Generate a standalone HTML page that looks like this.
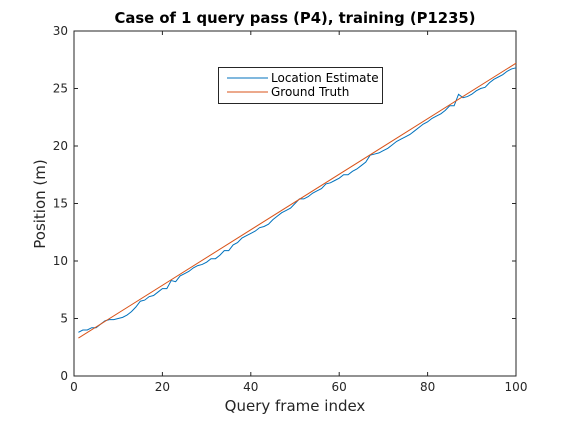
<!DOCTYPE html>
<html><head><meta charset="utf-8"><style>
body{margin:0;background:#fff;}
svg{display:block;font-family:"DejaVu Sans","Liberation Sans",sans-serif;}
</style></head><body>
<svg id="chart" width="570" height="422">
<rect width="570" height="422" fill="#fff"/>
<text x="295" y="23" text-anchor="middle" font-size="14.8" font-weight="bold" fill="#000">Case of 1 query pass (P4), training (P1235)</text>
<g id="axes"></g>
<text x="295" y="411" text-anchor="middle" font-size="15" fill="#262626">Query frame index</text>
<text transform="translate(45,204) rotate(-90)" text-anchor="middle" font-size="15" fill="#262626">Position (m)</text>
<g>
<rect x="218.5" y="67.5" width="164" height="36" fill="#fff" stroke="#262626" stroke-width="1"/>
<line x1="227" y1="78" x2="268" y2="78" stroke="#0072BD" stroke-width="1"/>
<text x="271" y="82" font-size="12" fill="#000">Location Estimate</text>
<line x1="227" y1="92" x2="268" y2="92" stroke="#D95319" stroke-width="1"/>
<text x="271" y="96" font-size="12" fill="#000">Ground Truth</text>
</g>
</svg>
<script>
const xTicks=[0,20,40,60,80,100];
const yTicks=[0,5,10,15,20,25,30];
const gtStart=[1,3.3];
const gtEnd=[100,27.2];
const estimate=[3.8,4.0,4.0,4.2,4.2,4.5,4.8,4.9,4.9,5.0,5.1,5.3,5.6,6.0,6.5,6.6,6.9,7.0,7.3,7.6,7.6,8.3,8.2,8.7,8.9,9.1,9.4,9.6,9.7,9.9,10.2,10.2,10.5,10.9,10.9,11.4,11.6,12.0,12.2,12.4,12.6,12.9,13.0,13.2,13.6,13.9,14.2,14.4,14.6,15.0,15.4,15.4,15.6,15.9,16.1,16.3,16.7,16.8,17.0,17.2,17.5,17.5,17.8,18.0,18.3,18.6,19.2,19.3,19.4,19.6,19.8,20.1,20.4,20.6,20.8,21.0,21.3,21.6,21.9,22.1,22.4,22.6,22.8,23.1,23.5,23.5,24.5,24.2,24.3,24.5,24.8,25.0,25.1,25.5,25.8,26.0,26.2,26.5,26.7,26.8];
const L=74,R=516,T=31,B=376;
const sx=v=>L+(v-0)/(100-0)*(R-L);
const sy=v=>B-(v-0)/(30-0)*(B-T);
const NS='http://www.w3.org/2000/svg';
const g=document.getElementById('axes');
function mk(t,a){const e=document.createElementNS(NS,t);for(const k in a)e.setAttribute(k,a[k]);g.appendChild(e);return e;}
const frame=mk('rect',{x:L,y:T,width:R-L,height:B-T,fill:'none',stroke:'#262626','stroke-width':1});


xTicks.forEach(v=>{
 const x=sx(v);
 mk('line',{x1:x,y1:B,x2:x,y2:B-4,stroke:'#262626'});
 mk('line',{x1:x,y1:T,x2:x,y2:T+4,stroke:'#262626'});
 const t=mk('text',{x:x,y:B+15,'text-anchor':'middle','font-size':12,fill:'#262626'});t.textContent=v;
 
 
});
yTicks.forEach(v=>{
 const y=sy(v);
 mk('line',{x1:L,y1:y,x2:L+4,y2:y,stroke:'#262626'});
 mk('line',{x1:R,y1:y,x2:R-4,y2:y,stroke:'#262626'});
 const t=mk('text',{x:L-6,y:y+4,'text-anchor':'end','font-size':12,fill:'#262626'});t.textContent=v;
 
 
});
const est=mk('polyline',{points:estimate.map((v,i)=>sx(i+1)+','+sy(v)).join(' '),fill:'none',stroke:'#0072BD','stroke-width':1});


const gt=mk('line',{x1:sx(gtStart[0]),y1:sy(gtStart[1]),x2:sx(gtEnd[0]),y2:sy(gtEnd[1]),stroke:'#D95319','stroke-width':1});


</script>
</body></html>
